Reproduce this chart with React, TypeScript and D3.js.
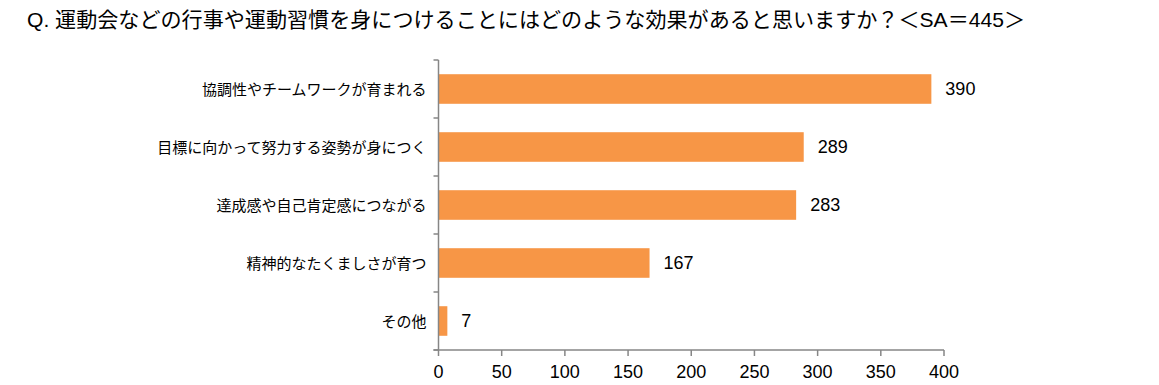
import * as d3 from "d3";

const title = "Q. 運動会などの行事や運動習慣を身につけることにはどのような効果があると思いますか？＜SA＝445＞";
const categories = [
  "協調性やチームワークが育まれる",
  "目標に向かって努力する姿勢が身につく",
  "達成感や自己肯定感につながる",
  "精神的なたくましさが育つ",
  "その他",
];
const values = [390, 289, 283, 167, 7];
const xTicks = [0, 50, 100, 150, 200, 250, 300, 350, 400];

const W = 1159;
const H = 385;
const left = 438.5;
const right = 944;
const top = 60;
const bottom = 350;
const axisColor = "#868686";
const barColor = "#F79646";
const font = "'Liberation Sans', Arial, 'Noto Sans CJK JP', sans-serif";

export default function App() {
  const x = d3.scaleLinear().domain([0, 400]).range([left, right]);
  const y = d3.scaleBand<string>().domain(categories).range([top, bottom]).paddingInner(0.49).paddingOuter(0.245);
  const band = d3.scaleBand<string>().domain(categories).range([top, bottom]);
  const boundaries = d3.range(categories.length + 1).map((i) => top + i * band.step());

  return (
    <svg
      width={W}
      height={H}
      style={{ position: "absolute", left: 0, top: 0, display: "block", background: "#fff" }}
      fontFamily={font}
    >
      <text
        x={27}
        y={19}
        fontSize={21}
        textLength={998}
        lengthAdjust="spacingAndGlyphs"
        dominantBaseline="central"
        fill="#000"
      >
        {title}
      </text>

      {categories.map((c, i) => (
        <g key={c}>
          <rect
            x={x(0)}
            y={y(c)!}
            width={x(values[i]) - x(0)}
            height={y.bandwidth()}
            fill={barColor}
          />
          <text
            x={x(values[i]) + 14}
            y={y(c)! + y.bandwidth() / 2}
            fontSize={18}
            dominantBaseline="central"
            fill="#000"
          >
            {values[i]}
          </text>
          <text
            x={left - 12}
            y={y(c)! + y.bandwidth() / 2}
            fontSize={15}
            textAnchor="end"
            dominantBaseline="central"
            fill="#000"
          >
            {c}
          </text>
        </g>
      ))}

      {/* category axis */}
      <line x1={left} x2={left} y1={top} y2={bottom} stroke={axisColor} strokeWidth={1.5} />
      {boundaries.map((b, i) => (
        <line key={i} x1={left - 5} x2={left} y1={b} y2={b} stroke={axisColor} strokeWidth={1.5} />
      ))}

      {/* value axis */}
      <line x1={left - 5} x2={right} y1={bottom} y2={bottom} stroke={axisColor} strokeWidth={1.5} />
      {xTicks.map((t) => (
        <g key={t}>
          <line x1={x(t)} x2={x(t)} y1={bottom} y2={bottom + 6} stroke={axisColor} strokeWidth={1.5} />
          <text x={x(t)} y={372} fontSize={18} textAnchor="middle" dominantBaseline="central" fill="#000">
            {t}
          </text>
        </g>
      ))}
    </svg>
  );
}
